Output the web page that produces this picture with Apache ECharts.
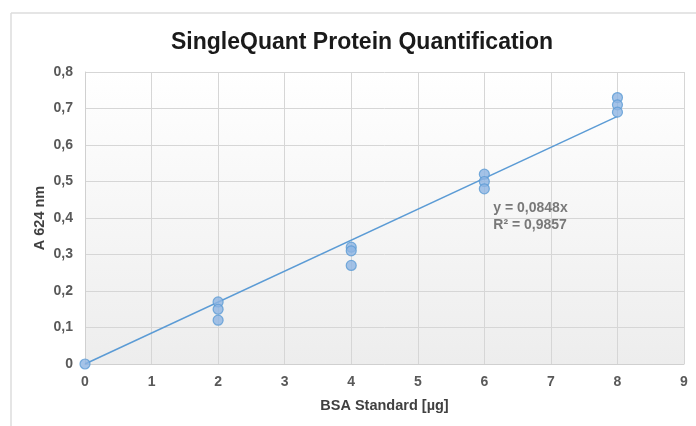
<!DOCTYPE html>
<html><head><meta charset="utf-8">
<script src="https://cdn.jsdelivr.net/npm/echarts@6/dist/echarts.min.js"></script>
<style>html,body{margin:0;padding:0;background:#fff;}#c{width:696px;height:426px;}</style>
</head><body><div id="c"></div>
<script>
const xValues = [0, 2, 2, 2, 4, 4, 4, 6, 6, 6, 8, 8, 8];
const yValues = [0, 0.17, 0.15, 0.12, 0.32, 0.31, 0.27, 0.52, 0.50, 0.48, 0.73, 0.71, 0.69];
const slope = 0.0848;
const trendX = [0, 8];
const trendLabel = ['y = 0,0848x', 'R² = 0,9857'];
const title = 'SingleQuant Protein Quantification';
const xTitle = 'BSA Standard [µg]';
const yTitle = 'A 624 nm';

const pts = xValues.map((x, i) => [x, yValues[i]]);
const trend = trendX.map(x => [x, +(slope * x).toFixed(4)]);
const fmt = v => String(v).replace('.', ',');
const font = '"Liberation Sans", Arial, sans-serif';

const chart = echarts.init(document.getElementById('c'));
chart.setOption({
  animation: false,
  backgroundColor: '#fff',
  title: {
    text: title, left: 166, top: 26,
    textStyle: { fontFamily: font, fontSize: 23, fontWeight: 'bold', color: '#1a1a1a' }
  },
  grid: {
    left: 85, right: 12, top: 72, bottom: 62, show: true, borderWidth: 0,
    backgroundColor: new echarts.graphic.LinearGradient(0, 0, 0, 1, [
      { offset: 0, color: '#ffffff' }, { offset: 1, color: '#ededed' }
    ])
  },
  graphic: [
    { type: 'line', shape: { x1: 11, y1: 13, x2: 696, y2: 13 }, style: { stroke: '#dcdcdc', lineWidth: 1.5 }, silent: true },
    { type: 'line', shape: { x1: 11, y1: 13, x2: 11, y2: 426 }, style: { stroke: '#dcdcdc', lineWidth: 1.5 }, silent: true }
  ],
  xAxis: {
    type: 'value', min: 0, max: 9, interval: 1,
    name: xTitle, nameLocation: 'middle', nameGap: 34,
    nameTextStyle: { fontFamily: font, fontSize: 14.5, fontWeight: 'bold', color: '#404040' },
    axisLine: { show: true, lineStyle: { color: '#d0d0d0' } },
    axisTick: { show: false },
    axisLabel: { fontFamily: font, fontSize: 14, fontWeight: 'bold', color: '#595959', margin: 11 },
    splitLine: { show: true, lineStyle: { color: '#d6d6d6', width: 1 } }
  },
  yAxis: {
    type: 'value', min: 0, max: 0.8, interval: 0.1,
    name: yTitle, nameLocation: 'middle', nameGap: 38, nameRotate: 90, nameMoveOverlap: false,
    nameTextStyle: { fontFamily: font, fontSize: 14.5, fontWeight: 'bold', color: '#404040' },
    axisLine: { show: true, lineStyle: { color: '#d0d0d0' } },
    axisTick: { show: false },
    axisLabel: { fontFamily: font, fontSize: 14, fontWeight: 'bold', color: '#595959', margin: 12,
      formatter: v => fmt(+v.toFixed(1)) },
    splitLine: { show: true, lineStyle: { color: '#d6d6d6', width: 1 } }
  },
  series: [
    {
      type: 'line', data: trend, symbol: 'none', z: 3,
      lineStyle: { color: '#5b9bd5', width: 1.5 }
    },
    {
      type: 'scatter', data: pts, symbolSize: 10, z: 4,
      itemStyle: { color: '#8db4e2', borderColor: '#5b9bd5', borderWidth: 1.2 }
    },
    {
      type: 'scatter', data: [[6.15, 0.405]], symbolSize: 0, silent: true,
      label: { show: true, position: 'right', offset: [-6, 0], formatter: trendLabel.join('\n'),
        fontFamily: font, fontSize: 14, fontWeight: 'bold', color: '#595959', lineHeight: 17, align: 'left' }
    }
  ]
});
</script></body></html>
